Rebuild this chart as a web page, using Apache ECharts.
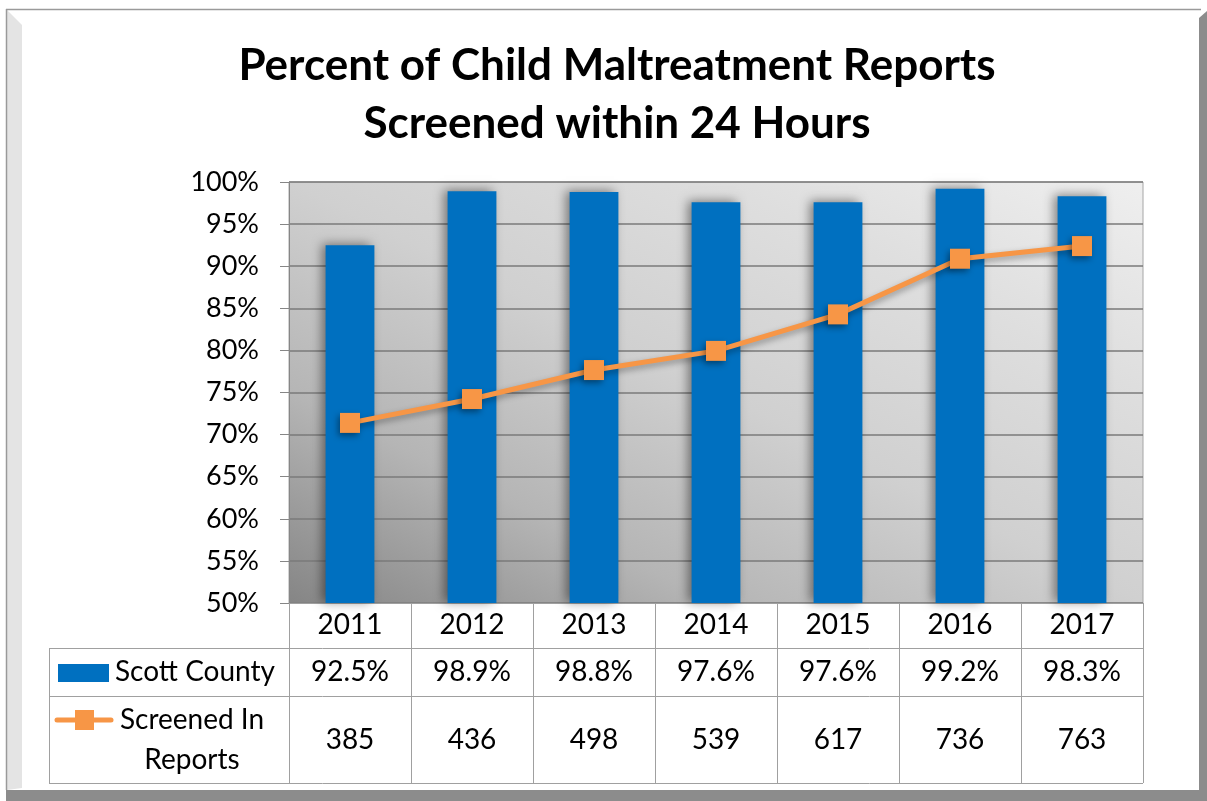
<!DOCTYPE html>
<html><head><meta charset="utf-8">
<script src="https://cdn.jsdelivr.net/npm/echarts@6/dist/echarts.min.js"></script>
<style>html,body{margin:0;padding:0;background:#fff}#c{width:1207px;height:801px}</style>
</head><body><div id="c"></div>
<script>
const years = ['2011','2012','2013','2014','2015','2016','2017'];
const scottCounty = [92.5, 98.9, 98.8, 97.6, 97.6, 99.2, 98.3];
const screenedIn = [385, 436, 498, 539, 617, 736, 763];
const seriesNames = ['Scott County', 'Screened In\nReports'];
const yTicks = {min: 50, max: 100, interval: 5};
const y2Range = {min: 0, max: 900};
const titleText = 'Percent of Child Maltreatment Reports\nScreened within 24 Hours';

const FONT = 'Lato';
const GL = 289, GR = 1143, GT = 182, GB = 603;
const R1 = 648, R2 = 696, R3 = 783, TL = 49;
const TFS = 28;

const chart = echarts.init(document.getElementById('c'));
const blue = '#0070c0', orange = '#f79646', lineCol = '#a0a0a0';

chart.setOption({
  animation: false,
  backgroundColor: '#fff',
  textStyle: {fontFamily: FONT},
  title: {
    text: titleText, left: 612, top: 32, textAlign: 'center',
    textStyle: {fontFamily: FONT, fontSize: 44, fontWeight: 'bold', color: '#000', lineHeight: 58, align: 'center'}
  },
  grid: {
    left: GL, right: 1207 - GR, top: GT, bottom: 801 - GB, show: true,
    borderColor: '#a6a6a6', borderWidth: 1,
    backgroundColor: new echarts.graphic.LinearGradient(0, 1, 0.39, -0.61, [
      {offset: 0, color: '#858585'}, {offset: 0.25, color: '#b5b5b5'}, {offset: 0.5, color: '#d0d0d0'},
      {offset: 0.75, color: '#dedede'}, {offset: 1, color: '#efefef'}
    ])
  },
  xAxis: [
    {type: 'category', data: years, position: 'bottom',
     axisLine: {show: true, lineStyle: {color: lineCol}},
     axisTick: {show: true, length: R1 - GB, lineStyle: {color: lineCol}},
     axisLabel: {fontSize: TFS, color: '#000', margin: 22, verticalAlign: 'middle', fontFamily: FONT}},
    {type: 'category', data: scottCounty.map(v => v.toFixed(1) + '%'), position: 'bottom', offset: R1 - GB,
     axisLine: {show: false}, axisTick: {show: true, length: R2 - R1, lineStyle: {color: lineCol}},
     axisLabel: {fontSize: TFS, color: '#000', margin: 24, verticalAlign: 'middle', fontFamily: FONT}},
    {type: 'category', data: screenedIn.map(String), position: 'bottom', offset: R2 - GB,
     axisLine: {show: false}, axisTick: {show: true, length: R3 - R2, lineStyle: {color: lineCol}},
     axisLabel: {fontSize: TFS, color: '#000', margin: 44, verticalAlign: 'middle', fontFamily: FONT}}
  ],
  yAxis: [
    {type: 'value', min: yTicks.min, max: yTicks.max, interval: yTicks.interval,
     axisLine: {show: true, lineStyle: {color: '#868686'}},
     axisTick: {show: true, length: 9, lineStyle: {color: '#868686'}},
     axisLabel: {formatter: '{value}%', fontSize: 27, color: '#000', margin: 30, fontFamily: FONT},
     splitLine: {show: true, lineStyle: {color: '#7a7a7a', width: 1.5}}},
    {type: 'value', min: y2Range.min, max: y2Range.max, show: false, splitLine: {show: false}}
  ],
  series: [
    {name: seriesNames[0], type: 'bar', data: scottCounty, xAxisIndex: 0, yAxisIndex: 0,
     barWidth: '40%',
     itemStyle: {color: blue, shadowBlur: 10, shadowColor: 'rgba(0,0,0,0.45)', shadowOffsetX: -4, shadowOffsetY: -1}},
    {name: seriesNames[1], type: 'line', data: screenedIn, xAxisIndex: 0, yAxisIndex: 1,
     symbol: 'rect', symbolSize: 20,
     lineStyle: {color: orange, width: 5, shadowBlur: 6, shadowColor: 'rgba(0,0,0,0.35)', shadowOffsetY: 3},
     itemStyle: {color: orange, shadowBlur: 6, shadowColor: 'rgba(0,0,0,0.4)', shadowOffsetX: -2, shadowOffsetY: 3}}
  ],
  graphic: [
    {type: 'polygon', silent: true, shape: {points: [[7,10],[22,25],[22,788],[7,790]]}, style: {fill: '#e4e4e4'}},
    {type: 'polygon', silent: true, shape: {points: [[1199,18],[1207,11],[1207,801],[1199,790]]}, style: {fill: '#8c8c8c'}},
    {type: 'rect', silent: true, shape: {x: 6, y: 790, width: 1201, height: 11}, style: {fill: '#8c8c8c'}},
    {type: 'line', silent: true, shape: {x1: 6, y1: 9.5, x2: 1201, y2: 9.5}, style: {stroke: '#9a9a9a', lineWidth: 1.5}},
    {type: 'line', silent: true, shape: {x1: 6.5, y1: 9, x2: 6.5, y2: 790}, style: {stroke: '#9a9a9a', lineWidth: 1.5}},
    {type: 'line', silent: true, shape: {x1: TL, y1: R1 + 0.5, x2: GR, y2: R1 + 0.5}, style: {stroke: lineCol, lineWidth: 1}},
    {type: 'line', silent: true, shape: {x1: TL, y1: R2 + 0.5, x2: GR, y2: R2 + 0.5}, style: {stroke: lineCol, lineWidth: 1}},
    {type: 'line', silent: true, shape: {x1: TL, y1: R3 + 0.5, x2: GR, y2: R3 + 0.5}, style: {stroke: lineCol, lineWidth: 1}},
    {type: 'line', silent: true, shape: {x1: TL + 0.5, y1: R1, x2: TL + 0.5, y2: R3}, style: {stroke: lineCol, lineWidth: 1}},
    {type: 'rect', silent: true, shape: {x: 58, y: 664, width: 51, height: 18}, style: {fill: blue}},
    {type: 'line', silent: true, shape: {x1: 57, y1: 720, x2: 111, y2: 720}, style: {stroke: orange, lineWidth: 5, lineCap: 'round'}},
    {type: 'rect', silent: true, shape: {x: 75, y: 710, width: 19, height: 20}, style: {fill: orange}},
    {type: 'text', silent: true, x: 115, y: (R1 + R2) / 2, style: {text: seriesNames[0], font: TFS + 'px ' + FONT, fill: '#000', textVerticalAlign: 'middle', textAlign: 'left'}},
    {type: 'text', silent: true, x: 192, y: (R2 + R3) / 2, style: {text: seriesNames[1], font: TFS + 'px ' + FONT, fill: '#000', textVerticalAlign: 'middle', textAlign: 'center', lineHeight: 40}}
  ]
});
</script></body></html>
